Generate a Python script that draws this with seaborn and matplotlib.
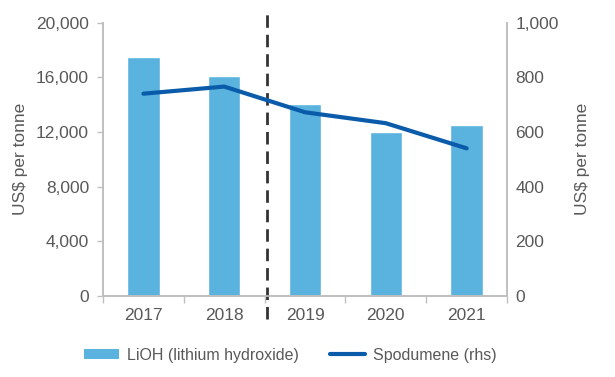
import numpy as np
import pandas as pd
import matplotlib
matplotlib.use("Agg")
import matplotlib.pyplot as plt
import seaborn as sns
from matplotlib.patches import Patch
from matplotlib.lines import Line2D

years = ["2017", "2018", "2019", "2020", "2021"]
lioh = [17500, 16100, 14050, 12000, 12500]
spodumene = [740, 766, 672, 632, 540]

sns.set_theme(style="white")
plt.rcParams["font.family"] = ["Liberation Sans", "DejaVu Sans"]

textColor = "#595959"
spineColor = "#BFBFBF"
barColor = "#5AB3DE"
lineColor = "#0A5CAB"

df = pd.DataFrame({"year": years, "lioh": lioh, "spodumene": spodumene,
                   "pos": np.arange(len(years))})

fig = plt.figure(figsize=(6.15, 3.77), dpi=100)
ax = fig.add_axes([0.1675, 0.215, 0.657, 0.725])

sns.barplot(data=df, x="year", y="lioh", color=barColor, width=0.4,
            saturation=1, ax=ax)
ax.set_xlim(-0.5, len(years) - 0.5)
ax.set_ylim(0, 20000)
ax.set_yticks(np.arange(0, 20001, 4000))
ax.set_yticklabels([f"{v:,}" for v in range(0, 20001, 4000)])
ax.set_xlabel("")
ax.set_ylabel("US$ per tonne", color=textColor, fontsize=12.5, labelpad=6)

ax2 = ax.twinx()
sns.lineplot(data=df, x="pos", y="spodumene", color=lineColor, linewidth=3,
             ax=ax2)
ax2.set_ylim(0, 1000)
ax2.set_yticks(np.arange(0, 1001, 200))
ax2.set_yticklabels([f"{v:,}" for v in range(0, 1001, 200)])
ax2.set_xlim(-0.5, len(years) - 0.5)
ax2.set_xlabel("")
ax2.set_ylabel("US$ per tonne", color=textColor, fontsize=12.5, labelpad=12)

for a in (ax, ax2):
    for s in a.spines.values():
        s.set_color(spineColor)
    a.spines["top"].set_visible(False)
    a.tick_params(axis="both", colors=textColor, labelsize=12.5, length=0,
                  pad=6)

ax.tick_params(axis="y", length=4, color=spineColor, width=1, left=True)
ax2.tick_params(axis="y", length=0, right=True)
ax.set_xticks(np.arange(-0.5, len(years) + 0.5, 1.0), minor=True)
ax.tick_params(axis="x", which="minor", length=5, color=spineColor,
               bottom=True)
ax.tick_params(axis="x", which="major", length=0, pad=9)

# divider between actual and forecast years
ax.axvline(1.53, ymin=-0.085, ymax=1.03, color="#333333", linewidth=2,
           dashes=(4.5, 2.5), clip_on=False, zorder=5)

handles = [Patch(facecolor=barColor, edgecolor="none"),
           Line2D([0], [0], color=lineColor, linewidth=3)]
fig.legend(handles, ["LiOH (lithium hydroxide)", "Spodumene (rhs)"],
           loc="lower center", bbox_to_anchor=(0.472, 0.0), ncol=2,
           frameon=False, fontsize=11.5, labelcolor=textColor,
           handlelength=2.2, handleheight=0.55, columnspacing=1.9,
           handletextpad=0.5)

fig.savefig("out.png", dpi=100)
